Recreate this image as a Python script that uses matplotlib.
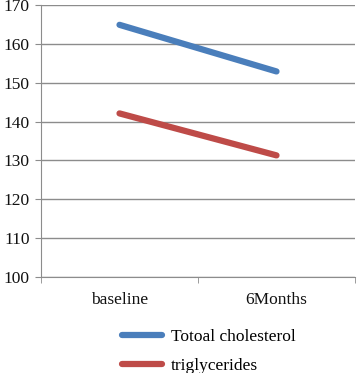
import matplotlib.pyplot as plt
import numpy as np

categories = ["baseline", "6Months"]
cholesterol = [164.9, 152.9]
triglycerides = [142.1, 131.3]
series_names = ["Totoal cholesterol", "triglycerides"]

plt.rcParams["font.family"] = ["Liberation Serif", "DejaVu Serif"]

fig = plt.figure(figsize=(3.58, 3.73), dpi=100)
ax = fig.add_axes([41 / 358, 1 - 277 / 373, 314 / 358, 272 / 373])

x = np.arange(len(categories)) + 0.5
l1, = ax.plot(x, cholesterol, color="#4a7ebb", lw=4.5, solid_capstyle="round")
l2, = ax.plot(x, triglycerides, color="#be4b48", lw=4.5, solid_capstyle="round")

ax.set_xlim(0, 2)
ax.set_ylim(100, 170)
ax.set_yticks(range(100, 171, 10))
ax.set_xticks(x)
ax.set_xticklabels(categories)
ax.set_xticks([0, 1, 2], minor=True)
ax.tick_params(axis="x", which="major", length=0, pad=11, labelsize=12.5, labelcolor="#111111")
ax.tick_params(axis="x", which="minor", length=4, color="#8c8c8c")
ax.tick_params(axis="y", length=4, color="#8c8c8c", labelsize=12.5, labelcolor="#111111", pad=4)
ax.grid(axis="y", color="#8c8c8c", lw=1)
ax.set_axisbelow(True)
for s in ["top", "right"]:
    ax.spines[s].set_visible(False)
for s in ["left", "bottom"]:
    ax.spines[s].set_color("#8c8c8c")

fig.legend([l1, l2], series_names, loc="upper left", bbox_to_anchor=(117 / 358, 1 - 324 / 373),
           frameon=False, fontsize=12.5, handlelength=2.3, labelspacing=0.7, handletextpad=0.5,
           borderaxespad=0, borderpad=0.3)

fig.savefig("out.png", dpi=100)
